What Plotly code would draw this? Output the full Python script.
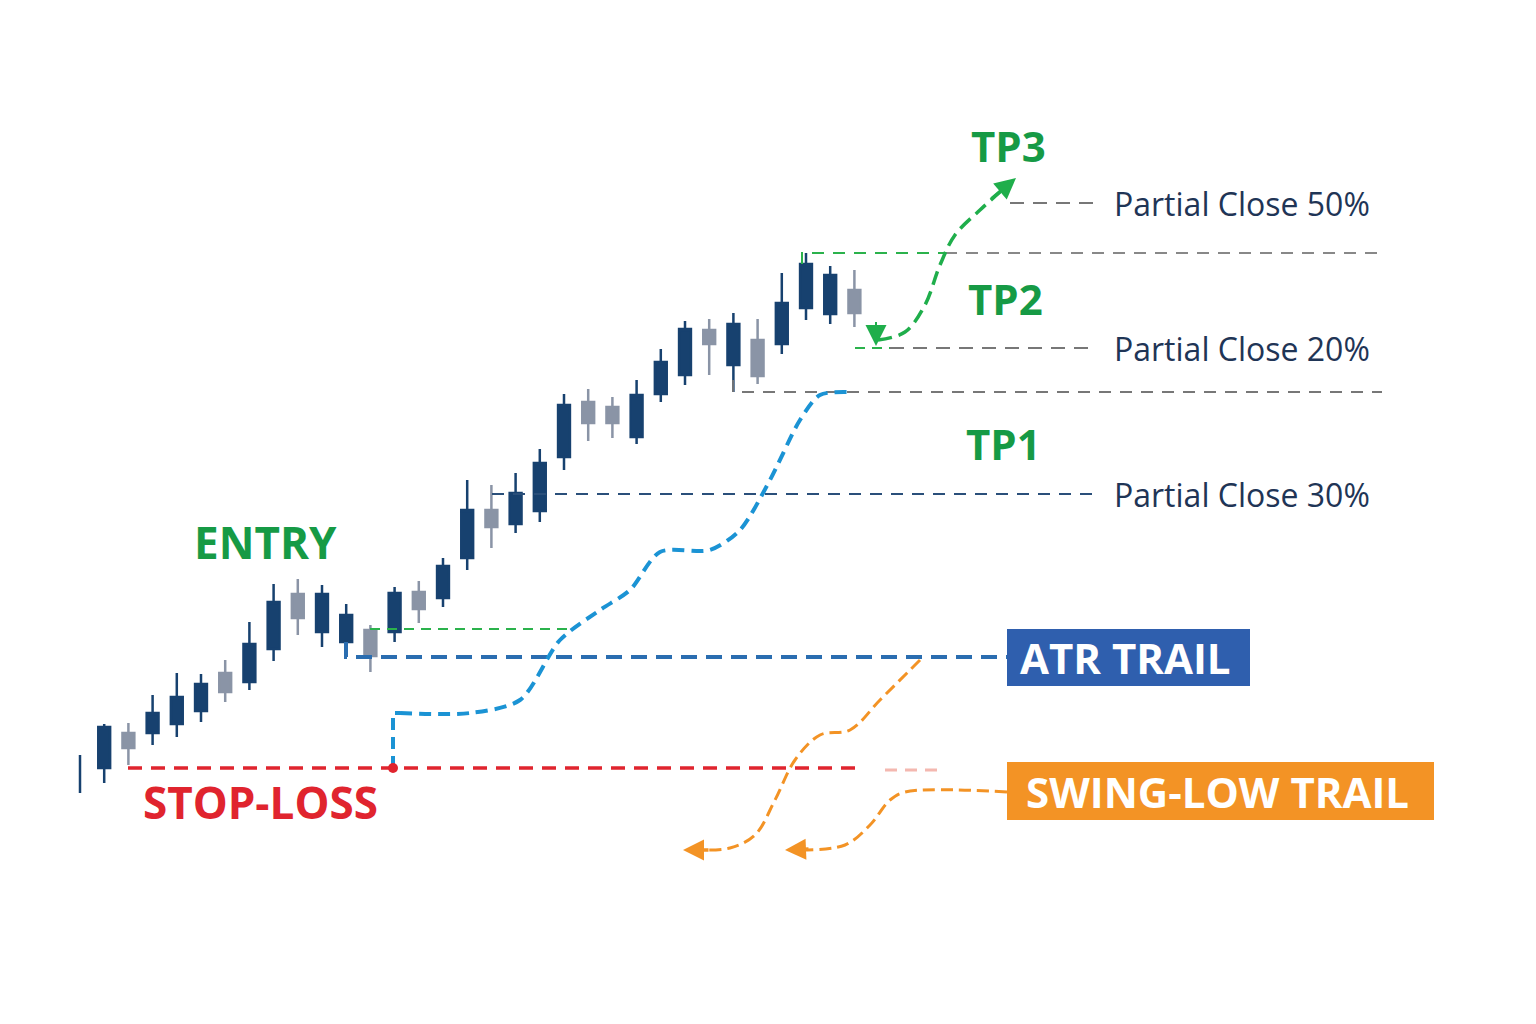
import plotly.graph_objects as go

# candles: high, open, close, low  (read as pixel rows; price = H - row)
idx = list(range(1, 33))
top_wick = [755, 724, 723, 695, 673, 674, 660, 622, 584, 579, 585, 604, 625, 587, 581, 558, 480,
            485, 473, 449, 394, 389, 397, 380, 349, 321, 319, 313, 319, 273, 253, 266, 270]
top_body = [None, 727, 733, 713, 697, 684, 673, 644, 602, 594, 594, 615, 630, 593, 592, 566, 510,
            510, 493, 463, 405, 402, 407, 395, 362, 329, 330, 324, 340, 303, 264, 275, 290]
bot_body = [None, 768, 748, 733, 724, 711, 692, 682, 649, 618, 632, 642, 656, 632, 609, 598, 558,
            527, 524, 511, 457, 423, 423, 437, 394, 375, 344, 365, 376, 344, 308, 314, 313]
bot_wick = [793, 783, 765, 745, 737, 722, 702, 690, 661, 635, 647, 642, 672, 642, 623, 607, 570,
            548, 533, 522, 470, 441, 438, 444, 402, 385, 375, 392, 384, 354, 320, 324, 327]
gray = [2, 6, 9, 12, 14, 17, 21, 22, 26, 28, 32]

H = 1024
X0, STEP = 80, 24.2
OFF = 8  # page body margin

def px(i):
    return X0 + STEP * i

fig = go.Figure()
for name, sel, col in [("dark", [i for i in idx if i not in gray], "#17416f"),
                       ("gray", gray, "#8a94a6")]:
    fig.add_trace(go.Candlestick(
        x=[px(i) for i in sel],
        open=[H - bot_body[i] for i in sel],
        close=[H - top_body[i] for i in sel],
        high=[H - top_wick[i] for i in sel],
        low=[H - bot_wick[i] for i in sel],
        increasing=dict(line=dict(color=col, width=2.5), fillcolor=col),
        decreasing=dict(line=dict(color=col, width=2.5), fillcolor=col),
        whiskerwidth=0, showlegend=False, hoverinfo="skip",
    ))

def line(xs, ys, color, width, dash="12px,8px", shape="linear", smooth=1):
    fig.add_trace(go.Scatter(x=xs, y=[H - y for y in ys], mode="lines",
                             line=dict(color=color, width=width, dash=dash, shape=shape,
                                       smoothing=smooth),
                             showlegend=False, hoverinfo="skip"))

# first candle is just a wick
line([px(0), px(0)], [top_wick[0], bot_wick[0]], "#17416f", 2.5, dash="solid")

# level lines
line([128, 858], [768, 768], "#e0242e", 3.5, dash="14px,9px")
line([885, 945], [770, 770], "#f4b8b0", 3)
line([370, 570], [629, 629], "#2bb24c", 1.8, dash="10px,7px")
line([346, 346, 1007], [642, 657, 657], "#2a6db0", 4, dash="16px,9px")
line([492, 1097], [494, 494], "#2a4f7a", 2, dash="12px,9px")
line([733, 733, 1382], [380, 392, 392], "#777777", 1.8, dash="12px,9px")
line([802, 802, 945], [264, 253, 253], "#2bb24c", 2, dash="12px,9px")
line([945, 1382], [253, 253], "#888888", 1.8, dash="12px,9px")
line([855, 890], [348, 348], "#2bb24c", 2, dash="10px,7px")
line([890, 1097], [348, 348], "#777777", 2, dash="14px,9px")
line([1010, 1097], [203, 203], "#777777", 2, dash="14px,9px")

# ATR trail curve
line([393, 393, 400], [768, 713, 713], "#1b93d4", 4, dash="12px,7px")
line([400, 470, 520, 560, 600, 630, 660, 710, 740, 770, 800, 820, 850],
     [713, 713, 700, 640, 610, 590, 552, 550, 530, 480, 420, 395, 392],
     "#1b93d4", 4, dash="12px,7px", shape="spline", smooth=0.8)
fig.add_trace(go.Scatter(x=[393], y=[H - 768], mode="markers",
                         marker=dict(color="#e0242e", size=10), showlegend=False, hoverinfo="skip"))

# TP3 arrow curve
line([878, 905, 925, 940, 955, 980, 1000],
     [340, 332, 305, 265, 235, 210, 192], "#1fae4b", 3.5, dash="14px,7px", shape="spline")
line([876, 876], [322, 340], "#1fae4b", 2, dash="solid")

# swing low trail curves
line([920, 880, 850, 820, 795, 775, 755, 730, 700],
     [660, 700, 730, 735, 760, 800, 835, 848, 850], "#f39325", 3, dash="12px,6px", shape="spline")
line([1007, 905, 890, 870, 845, 800],
     [792, 792, 800, 825, 845, 850], "#f39325", 3, dash="12px,6px", shape="spline")

ann = []
def arrow(x, y, ax, ay, color):
    ann.append(dict(x=x, y=H - y, ax=ax, ay=H - ay, xref="x", yref="y", axref="x", ayref="y",
                    showarrow=True, arrowhead=2, arrowsize=1.2, arrowwidth=3.5,
                    arrowcolor=color, text=""))
arrow(1016, 178, 990, 200, "#1fae4b")
arrow(683, 850, 710, 850, "#f39325")
arrow(785, 850, 810, 849, "#f39325")
arrow(876, 346, 876, 330, "#1fae4b")

def text(x, y, t, color, size, anchor="center", bold=True):
    ann.append(dict(x=x, y=H - y, xref="x", yref="y", text=f"<b>{t}</b>" if bold else t,
                    showarrow=False, xanchor=anchor, yanchor="middle",
                    font=dict(color=color, size=size, family="Open Sans")))

green = "#169a45"
text(265, 542, "ENTRY", green, 44)
text(260, 802, "STOP-LOSS", "#e0242e", 44)
text(1008, 145, "TP3", green, 42)
text(1005, 298, "TP2", green, 42)
text(1003, 443, "TP1", green, 42)
for yy, t in [(203, "Partial Close 50%"), (348, "Partial Close 20%"), (494, "Partial Close 30%")]:
    text(1112, yy, t, "#1f3556", 32, anchor="left", bold=False)

shapes = [
    dict(type="rect", x0=1007, x1=1250, y0=H - 686, y1=H - 629, fillcolor="#2f5fae", line=dict(width=0)),
    dict(type="rect", x0=1007, x1=1434, y0=H - 820, y1=H - 762, fillcolor="#f39325", line=dict(width=0)),
]
text(1125, 657, "ATR TRAIL", "white", 42)
text(1217, 791, "SWING-LOW TRAIL", "white", 42)

fig.update_layout(
    width=1536, height=1024, margin=dict(l=0, r=0, t=0, b=0),
    paper_bgcolor="white", plot_bgcolor="white",
    xaxis=dict(range=[OFF, 1536 + OFF], visible=False, rangeslider=dict(visible=False), fixedrange=True),
    yaxis=dict(range=[-OFF, H - OFF], visible=False, fixedrange=True),
    annotations=ann, shapes=shapes,
)
fig.write_html("out.html")
